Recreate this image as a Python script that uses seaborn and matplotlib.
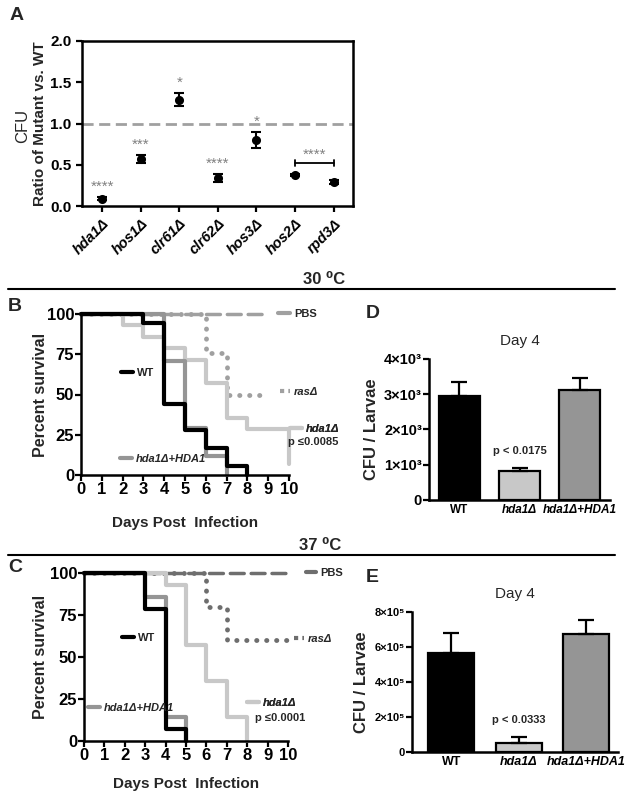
import numpy as np
import seaborn as sns
import matplotlib.pyplot as plt
from matplotlib.lines import Line2D

# Panel A data
strains = ["hda1Δ", "hos1Δ", "clr61Δ", "clr62Δ", "hos3Δ", "hos2Δ", "rpd3Δ"]
ratio = [0.09, 0.57, 1.29, 0.34, 0.80, 0.375, 0.29]
ratio_err = [0.02, 0.05, 0.08, 0.05, 0.10, 0.01, 0.02]
stars = ["****", "***", "*", "****", "*", "", ""]

# Panel B data (30 C), survival steps
b_wt_days = [0, 3, 4, 5, 6, 7, 8]
b_wt_surv = [100, 94.4, 44.4, 27.8, 16.7, 5.6, 0]
b_comp_days = [0, 4, 5, 6, 7]
b_comp_surv = [100, 70.6, 29.4, 11.8, 0]
b_hda_days = [0, 2, 3, 4, 5, 6, 7, 8, 10]
b_hda_surv = [100, 92.9, 85.7, 78.6, 71.4, 57.1, 35.7, 28.6, 7.1]
b_pbs_days = [0, 9]
b_pbs_surv = [100, 100]
b_ras_days = [0, 6, 7, 9]
b_ras_surv = [100, 76, 50, 50]

# Panel C data (37 C)
c_wt_days = [0, 3, 4, 5]
c_wt_surv = [100, 78.6, 7.1, 0]
c_comp_days = [0, 3, 4, 5]
c_comp_surv = [100, 85.7, 14.3, 0]
c_hda_days = [0, 4, 5, 6, 7, 8]
c_hda_surv = [100, 92.9, 57.1, 35.7, 14.3, 0]
c_pbs_days = [0, 10]
c_pbs_surv = [100, 100]
c_ras_days = [0, 6, 7, 10]
c_ras_surv = [100, 80, 60, 60]

# Panels D / E data
groups = ["WT", "hda1Δ", "hda1Δ+HDA1"]
d_cfu = [2950, 820, 3120]
d_err = [400, 80, 330]
e_cfu = [566000, 51000, 676000]
e_err = [114000, 35000, 80000]

sns.set_style("ticks")
plt.rcParams["font.family"] = ["Liberation Sans", "DejaVu Sans"]
plt.rcParams["axes.linewidth"] = 1.8
plt.rcParams["xtick.major.width"] = 1.6
plt.rcParams["ytick.major.width"] = 1.6
plt.rcParams["xtick.major.size"] = 4
plt.rcParams["ytick.major.size"] = 4
plt.rcParams["axes.edgecolor"] = "black"
plt.rcParams["xtick.color"] = "black"
plt.rcParams["ytick.color"] = "black"

fig = plt.figure(figsize=(6.25, 7.94), dpi=100)
W, H = 625, 794


def add_axes(l, r, t, b):
    return fig.add_axes([l / W, 1 - b / H, (r - l) / W, (b - t) / H])


# ---------------- Panel A ----------------
axA = add_axes(82, 353, 41, 206)
sns.pointplot(x=strains, y=ratio, linestyle="none", color="black",
              markers="o", markersize=4.5, errorbar=None, ax=axA)
axA.errorbar(range(len(strains)), ratio, yerr=ratio_err, fmt="none",
             ecolor="black", elinewidth=1.5, capsize=3.5, capthick=1.5)
axA.axhline(1.0, color="#a0a0a0", lw=2, ls=(0, (4, 2)), zorder=0)
axA.set_xlim(-0.52, 6.5)
axA.set_ylim(0, 2.0)
axA.set_yticks([0, 0.5, 1.0, 1.5, 2.0])
axA.set_yticklabels(["0.0", "0.5", "1.0", "1.5", "2.0"], fontsize=11, fontweight="bold")
axA.set_xticks(range(len(strains)))
axA.set_xticklabels(strains, rotation=45, ha="right", rotation_mode="anchor",
                    fontsize=10.5, fontweight="bold", fontstyle="italic")
axA.set_xlabel("")
axA.set_ylabel("Ratio of Mutant vs. WT", fontsize=11, fontweight="bold")
axA.yaxis.set_label_coords(-0.128, 0.5)
fig.text(23 / W, 1 - 126 / H, "CFU", rotation=90, fontsize=12,
         ha="center", va="center")
for i, s in enumerate(stars):
    if s:
        axA.text(i, ratio[i] + ratio_err[i] + 0.04, s, ha="center", va="bottom",
                 fontsize=11, color="#808080")
axA.plot([5, 6], [0.52, 0.52], color="black", lw=1.3)
axA.plot([5, 5], [0.48, 0.56], color="black", lw=1.3)
axA.plot([6, 6], [0.48, 0.56], color="black", lw=1.3)
axA.text(5.5, 0.53, "****", ha="center", va="bottom", fontsize=11, color="#808080")
fig.text(10 / W, 1 - 15 / H, "A", fontsize=14, fontweight="bold", va="center")

# ---------------- separators ----------------
fig.add_artist(Line2D([8 / W, 615 / W], [1 - 289 / H, 1 - 289 / H], color="black", lw=1.5))
fig.add_artist(Line2D([8 / W, 615 / W], [1 - 555 / H, 1 - 555 / H], color="black", lw=1.5))
fig.text(324 / W, 1 - 279 / H, "30 ⁰C", fontsize=12, fontweight="bold",
         ha="center", va="center")
fig.text(320 / W, 1 - 546 / H, "37 ⁰C", fontsize=12, fontweight="bold",
         ha="center", va="center")

LIGHT = "#c8c8c8"
MID = "#959595"


def small_legend(ax, handle, label, x, y, style="normal", hl=1.1):
    lg = ax.legend([handle], [label], loc="center left", bbox_to_anchor=(x, y),
                   frameon=False, borderpad=0, borderaxespad=0, handlelength=hl,
                   handletextpad=0.35,
                   prop={"size": 8, "weight": "bold", "style": style})
    ax.add_artist(lg)


def survival_panel(ax, curves, xlabelpad):
    for days, surv, col, lw, ls in curves:
        sns.lineplot(x=days, y=surv, color=col, lw=lw, ls=ls,
                     drawstyle="steps-post", estimator=None, ax=ax)
    for ln in ax.lines:
        ln.set_clip_on(False)
        ln.set_dash_capstyle("round")
    ax.set_xlim(0, 10)
    ax.set_ylim(0, 100)
    ax.set_xticks(range(11))
    ax.set_xticklabels([str(i) for i in range(11)], fontsize=12, fontweight="bold")
    ax.set_yticks([0, 25, 50, 75, 100])
    ax.set_yticklabels(["0", "25", "50", "75", "100"], fontsize=12, fontweight="bold")
    ax.tick_params(pad=1)
    ax.set_xlabel("Days Post  Infection", fontsize=11, fontweight="bold",
                  labelpad=xlabelpad)
    ax.set_ylabel("Percent survival", fontsize=11.5, fontweight="bold")
    sns.despine(ax=ax)


# ---------------- Panel B ----------------
axB = add_axes(81, 289, 314, 475)
dashB = "#a0a0a0"
survival_panel(axB, [
    (b_pbs_days, b_pbs_surv, dashB, 2.5, (0, (4, 2))),
    (b_ras_days, b_ras_surv, dashB, 3.5, (0, (0.05, 2.0))),
    (b_hda_days, b_hda_surv, LIGHT, 3, "-"),
    (b_comp_days, b_comp_surv, MID, 3, "-"),
    (b_wt_days, b_wt_surv, "black", 3, "-"),
], 14)
axB.yaxis.set_label_coords(-0.16, 0.5)
small_legend(axB, Line2D([], [], color="black", lw=3), "WT", 0.19, 0.634)
small_legend(axB, Line2D([], [], color=MID, lw=3), "hda1Δ+HDA1", 0.188, 0.10, "italic")
small_legend(axB, Line2D([], [], color=dashB, lw=3), "PBS", 0.947, 1.0)
small_legend(axB, Line2D([], [], color=dashB, lw=3, ls=(0, (1, 1))), "rasΔ", 0.957, 0.516, "italic", 0.9)
small_legend(axB, Line2D([], [], color=LIGHT, lw=3), "hda1Δ", 1.005, 0.286, "italic")
axB.text(0.995, 0.205, "p ≤0.0085", transform=axB.transAxes, fontsize=8,
         fontweight="bold", va="center", ha="left")
fig.text(8 / W, 1 - 306 / H, "B", fontsize=14, fontweight="bold", va="center")

# ---------------- Panel C ----------------
axC = add_axes(84, 288, 573, 741)
dashC = "#6e6e6e"
survival_panel(axC, [
    (c_pbs_days, c_pbs_surv, dashC, 2.5, (0, (4, 2))),
    (c_ras_days, c_ras_surv, dashC, 3.5, (0, (0.05, 2.0))),
    (c_hda_days, c_hda_surv, LIGHT, 3, "-"),
    (c_comp_days, c_comp_surv, MID, 3, "-"),
    (c_wt_days, c_wt_surv, "black", 3, "-"),
], 10)
axC.yaxis.set_label_coords(-0.176, 0.5)
small_legend(axC, Line2D([], [], color="black", lw=3), "WT", 0.186, 0.613)
small_legend(axC, Line2D([], [], color=MID, lw=3), "hda1Δ+HDA1", 0.02, 0.196, "italic")
small_legend(axC, Line2D([], [], color=dashC, lw=3), "PBS", 1.088, 1.0, hl=0.9)
small_legend(axC, Line2D([], [], color=dashC, lw=3, ls=(0, (1, 1))), "rasΔ", 1.03, 0.607, "italic", 0.9)
small_legend(axC, Line2D([], [], color=LIGHT, lw=3), "hda1Δ", 0.80, 0.226, "italic")
axC.text(0.84, 0.137, "p ≤0.0001", transform=axC.transAxes, fontsize=8,
         fontweight="bold", va="center", ha="left")
fig.text(8 / W, 1 - 568 / H, "C", fontsize=14, fontweight="bold", va="center")


# ---------------- Panels D / E ----------------
def bar_panel(ax, vals, errs, xlim, ticks, ticklabels, tick_fs, xt_fs, ptext, py):
    sns.barplot(x=groups, y=vals, hue=groups, palette=["black", LIGHT, MID],
                edgecolor="black", linewidth=1.6, width=0.68, legend=False, ax=ax)
    ax.errorbar(range(3), vals, yerr=[np.zeros(3), errs], fmt="none",
                ecolor="black", elinewidth=1.6, capsize=6, capthick=1.6)
    ax.set_xlim(*xlim)
    ax.set_yticks(ticks)
    ax.set_yticklabels(ticklabels, fontsize=tick_fs, fontweight="bold")
    ax.set_ylim(0, ticks[-1])
    ax.set_xticks(range(3))
    ax.set_xticklabels(groups, fontsize=xt_fs, fontweight="bold")
    for lab in ax.get_xticklabels()[1:]:
        lab.set_fontstyle("italic")
    ax.tick_params(axis="x", length=0, pad=3)
    ax.tick_params(axis="y", pad=1)
    ax.set_xlabel("")
    ax.set_ylabel("CFU / Larvae", fontsize=12, fontweight="bold")
    ax.set_title("Day 4", fontsize=11, pad=10)
    ax.text(1, py, ptext, ha="center", va="center", fontsize=8, fontweight="bold")
    sns.despine(ax=ax)


axD = add_axes(429, 610, 359, 500)
bar_panel(axD, d_cfu, d_err, (-0.5, 2.5), [0, 1000, 2000, 3000, 4000],
          ["0", "1×10³", "2×10³", "3×10³", "4×10³"], 10.5, 8.5,
          "p < 0.0175", 1400)
fig.text(366 / W, 1 - 313 / H, "D", fontsize=14, fontweight="bold", va="center")

axE = add_axes(412, 618, 612, 752)
bar_panel(axE, e_cfu, e_err, (-0.58, 2.47), [0, 200000, 400000, 600000, 800000],
          ["0", "2×10⁵", "4×10⁵", "6×10⁵", "8×10⁵"], 8, 9,
          "p < 0.0333", 185000)
fig.text(366 / W, 1 - 578 / H, "E", fontsize=14, fontweight="bold", va="center")

fig.savefig("out.png", dpi=100)
